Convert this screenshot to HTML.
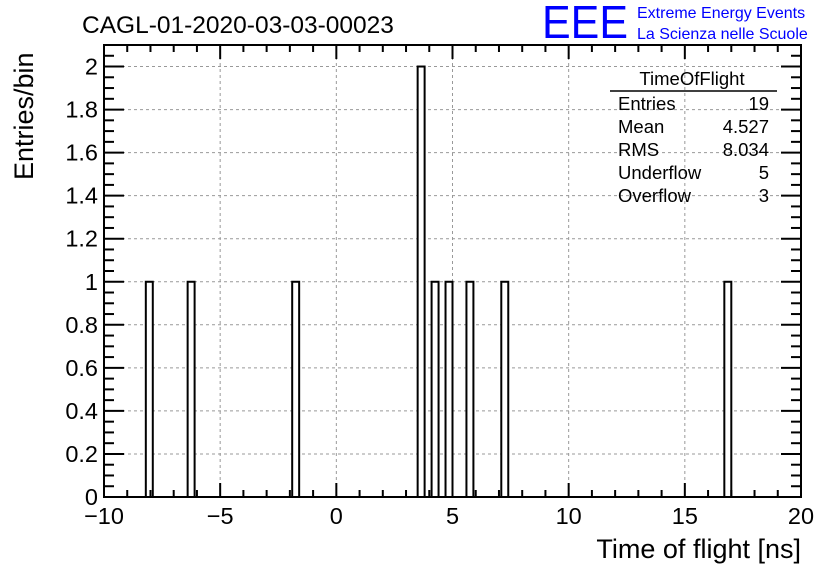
<!DOCTYPE html>
<html><head><meta charset="utf-8"><style>
body{margin:0;background:#fff;}
svg{display:block;font-family:"Liberation Sans",Arial,sans-serif;}
</style></head><body>
<svg id="c" width="836" height="572" viewBox="0 0 836 572">
<text x="82" y="33" font-size="24.5">CAGL-01-2020-03-03-00023</text>
<text x="542" y="38" font-size="46" fill="#0000ff" textLength="86" lengthAdjust="spacingAndGlyphs">EEE</text>
<text x="637" y="18" font-size="16" fill="#0000ff">Extreme Energy Events</text>
<text x="637" y="39" font-size="16" fill="#0000ff">La Scienza nelle Scuole</text>
<g id="grid"></g><g id="bars"></g><g id="axes"></g>
<text x="801" y="558" font-size="27" text-anchor="end">Time of flight [ns]</text>
<text transform="translate(33,180) rotate(-90)" font-size="27">Entries/bin</text>
<g font-size="18.5">
<text x="692" y="85" text-anchor="middle">TimeOfFlight</text>
<line x1="610" y1="91" x2="777" y2="91" stroke="#000" stroke-width="1.5"/>
<text x="618" y="110">Entries</text><text x="769" y="110" text-anchor="end">19</text>
<text x="618" y="133">Mean</text><text x="769" y="133" text-anchor="end">4.527</text>
<text x="618" y="156">RMS</text><text x="769" y="156" text-anchor="end">8.034</text>
<text x="618" y="179">Underflow</text><text x="769" y="179" text-anchor="end">5</text>
<text x="618" y="202">Overflow</text><text x="769" y="202" text-anchor="end">3</text>
</g>
</svg>
<script>
const binLows=[-8.2,-6.4,-1.9,3.5,4.1,4.7,5.6,7.1,16.7];
const counts=[1,1,1,2,1,1,1,1,1];
const binWidth=0.3;
const xTicks=[-10,-5,0,5,10,15,20];
const yTicks=[0,0.2,0.4,0.6,0.8,1,1.2,1.4,1.6,1.8,2];
const yTickLabels=["0","0.2","0.4","0.6","0.8","1","1.2","1.4","1.6","1.8","2"];
const X0=104,X1=801,Y0=497,Y1=45,xmin=-10,xmax=20,ymax=2.1;
const xs=v=>X0+(v-xmin)/(xmax-xmin)*(X1-X0);
const ys=v=>Y0-v/ymax*(Y0-Y1);
const NS="http://www.w3.org/2000/svg";
function mk(p,t,a){const e=document.createElementNS(NS,t);for(const k in a)e.setAttribute(k,a[k]);p.appendChild(e);return e;}
const grid=document.getElementById('grid'),bars=document.getElementById('bars'),axes=document.getElementById('axes');
xTicks.forEach(v=>{const l=mk(grid,'line',{x1:xs(v),x2:xs(v),y1:Y1,y2:Y0,stroke:'#999','stroke-dasharray':'3,3'});

});
yTicks.forEach(v=>{const l=mk(grid,'line',{x1:X0,x2:X1,y1:ys(v),y2:ys(v),stroke:'#999','stroke-dasharray':'3,3'});

});
binLows.forEach((b,i)=>{const x=xs(b),w=xs(b+binWidth)-x,y=ys(counts[i]);
const r=mk(bars,'rect',{x:x,y:y,width:w,height:Y0-y,fill:'#fff',stroke:'#000','stroke-width':2});

});
const fr=mk(axes,'rect',{x:X0,y:Y1,width:X1-X0,height:Y0-Y1,fill:'none',stroke:'#000','stroke-width':2});


for(let v=xmin;v<=xmax+1e-9;v+=1){const major=Math.abs(v%5)<1e-9;const L=major?14:7;
mk(axes,'line',{x1:xs(v),x2:xs(v),y1:Y0,y2:Y0-L,stroke:'#000','stroke-width':2});
mk(axes,'line',{x1:xs(v),x2:xs(v),y1:Y1,y2:Y1+L,stroke:'#000','stroke-width':2});}
for(let v=0;v<=ymax+1e-9;v+=0.05){const major=Math.abs(Math.round(v*100)%20)<1;const L=major?20:10;
mk(axes,'line',{x1:X0,x2:X0+L,y1:ys(v),y2:ys(v),stroke:'#000','stroke-width':2});
mk(axes,'line',{x1:X1,x2:X1-L,y1:ys(v),y2:ys(v),stroke:'#000','stroke-width':2});}
xTicks.forEach(v=>{const t=mk(axes,'text',{x:xs(v),y:Y0+27,'font-size':23.5,'text-anchor':'middle'});t.textContent=v<0?'\u2212'+(-v):String(v);

});
yTicks.forEach((v,i)=>{const t=mk(axes,'text',{x:X0-6,y:ys(v)+8,'font-size':23.5,'text-anchor':'end'});t.textContent=yTickLabels[i];

});
</script>
</body></html>
